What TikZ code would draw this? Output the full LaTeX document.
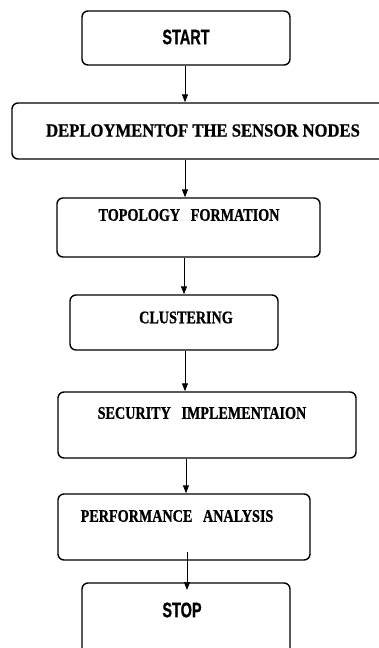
\documentclass[tikz,border=0pt]{standalone}
\usepackage{fontspec}
\newfontfamily\stepfont[FakeStretch=0.69,FakeBold=0.8]{Liberation Sans}
\newfontfamily\wideboxfont[FakeStretch=0.9,FakeBold=0.8]{Liberation Serif}
\newfontfamily\boxfont[FakeStretch=0.8,FakeBold=0.8]{Liberation Serif}
\usetikzlibrary{arrows.meta}

\begin{document}
\begin{tikzpicture}[x=1pt,y=-1pt,every node/.style={inner sep=0pt},
      >={Triangle[length=8pt,width=6pt]},
      flowbox/.style={draw,line width=1.4pt,rectangle,rounded corners=6pt},
      termtext/.style={font=\stepfont\bfseries\fontsize{21}{24}\selectfont},
      steptext/.style={font=\boxfont\bfseries\fontsize{17.7}{20}\selectfont}]
      \useasboundingbox(0,0)rectangle(379,648);
      \clip(0,0)rectangle(379,648);
      % boxes
      \node[flowbox,minimum width=208pt,minimum height=54pt](start)at(186,38){};
      \node[flowbox,minimum width=373pt,minimum height=56pt](deploy)at(198.5,131){};
      \node[flowbox,minimum width=263pt,minimum height=59pt](topo)at(188.5,227.5){};
      \node[flowbox,minimum width=208pt,minimum height=55pt](clust)at(174,322.5){};
      \node[flowbox,minimum width=298pt,minimum height=66pt](secur)at(207,425){};
      \node[flowbox,minimum width=252pt,minimum height=66pt](perf)at(184,527){};
      \node[flowbox,minimum width=208pt,minimum height=80pt](stop)at(186,623){};
      % texts
      \node[termtext](starttxt)at(186,37){START};
      \node[steptext,font=\wideboxfont\bfseries\fontsize{18.5}{20}\selectfont](deploytxt)
         at(203,130.5){DEPLOYMENTOF THE SENSOR NODES};
      \node[steptext](topotxt)at(189,215){TOPOLOGY\ \ \ FORMATION};
      \node[steptext](clusttxt)at(186,317.5){CLUSTERING};
      \node[steptext](securtxt)at(202,413){SECURITY\ \ \ IMPLEMENTAION};
      \node[steptext](perftxt)at(177,516){PERFORMANCE\ \ \ ANALYSIS};
      \node[termtext](stoptxt)at(182,610){STOP};
      % arrows
      \coordinate(a6)at(187,552);
      \draw[->,line width=1pt](start.south-|185,0)--(deploy.north-|185,0);
      \draw[->,line width=1pt](deploy.south-|185,0)--(topo.north-|185,0);
      \draw[->,line width=1pt](topo.south-|184,0)--(clust.north-|184,0);
      \draw[->,line width=1pt](clust.south-|185,0)--(secur.north-|185,0);
      \draw[->,line width=1pt](secur.south-|186,0)--(perf.north-|186,0);
      \draw[->,line width=1pt](a6)--++(0,38);
    \end{tikzpicture}
\end{document}
